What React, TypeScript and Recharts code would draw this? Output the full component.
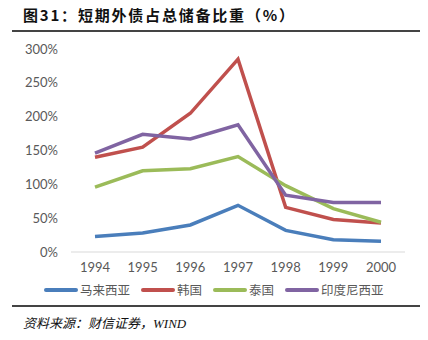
import React from "react";
import { LineChart, Line, XAxis, YAxis } from "recharts";

const years = ["1994", "1995", "1996", "1997", "1998", "1999", "2000"];
const malaysia = [23, 28, 40, 69, 32, 18, 16];
const korea = [140, 155, 205, 285, 66, 48, 43];
const thailand = [96, 120, 123, 141, 98, 64, 44];
const indonesia = [146, 174, 167, 188, 84, 73, 73];
const yTicks = [0, 50, 100, 150, 200, 250, 300];

const seriesNames = ["马来西亚", "韩国", "泰国", "印度尼西亚"];
const seriesKeys = ["malaysia", "korea", "thailand", "indonesia"];
const seriesColors = ["#4a7ebb", "#c0504d", "#9bbb59", "#8064a2"];

const data = years.map((y, i) => ({
  year: y,
  malaysia: malaysia[i],
  korea: korea[i],
  thailand: thailand[i],
  indonesia: indonesia[i],
}));

const tickFont = { fontFamily: "Lato, 'Open Sans', sans-serif", fontSize: 13, fill: "#595959" };

export default function App() {
  return (
    <div style={{ position: "fixed", left: 0, top: 0, width: 428, height: 340, background: "#fff", overflow: "hidden" }}>
      <div
        style={{
          position: "absolute",
          left: 23,
          top: 4,
          fontFamily: "'Noto Sans CJK SC', sans-serif",
          fontWeight: 700,
          fontSize: 15,
          letterSpacing: 1.8,
          color: "#111",
          whiteSpace: "nowrap",
        }}
      >
        图31：短期外债占总储备比重（%）
      </div>
      <div style={{ position: "absolute", left: 12, top: 30, width: 408, height: 2, background: "#444" }} />
      <LineChart
        width={428}
        height={340}
        data={data}
        margin={{ top: 49, right: 23, bottom: 58, left: 0 }}
        style={{ position: "absolute", left: 0, top: 0 }}
      >
        <XAxis
          dataKey="year"
          axisLine={{ stroke: "#d9d9d9", strokeWidth: 1 }}
          tickLine={false}
          tick={tickFont}
          tickMargin={5}
          height={30}
          interval={0}
          padding={{ left: 24, right: 24 }}
        />
        <YAxis
          domain={[0, 300]}
          ticks={yTicks}
          tickFormatter={(v: number) => `${v}%`}
          axisLine={false}
          tickLine={false}
          tick={tickFont}
          tickMargin={7}
          width={71}
          interval={0}
        />
        {seriesKeys.map((k, i) => (
          <Line
            key={k}
            dataKey={k}
            name={seriesNames[i]}
            stroke={seriesColors[i]}
            strokeWidth={3.5}
            dot={false}
            type="linear"
            isAnimationActive={false}
          />
        ))}
      </LineChart>
      <div
        style={{
          position: "absolute",
          left: 44,
          top: 280,
          display: "flex",
          alignItems: "center",
          fontFamily: "'Noto Sans CJK SC', sans-serif",
          fontSize: 12.5,
          color: "#595959",
          whiteSpace: "nowrap",
        }}
      >
        {seriesNames.map((n, i) => (
          <div key={n} style={{ display: "flex", alignItems: "center", marginRight: 11 }}>
            <div style={{ width: 34, height: 4, borderRadius: 2, background: seriesColors[i], marginRight: 2 }} />
            <span>{n}</span>
          </div>
        ))}
      </div>
      <div style={{ position: "absolute", left: 12, top: 305, width: 408, height: 2, background: "#444" }} />
      <div
        style={{
          position: "absolute",
          left: 23,
          top: 313,
          fontFamily: "'Liberation Serif', 'Noto Sans CJK SC', serif",
          fontStyle: "italic",
          fontSize: 13,
          color: "#111",
          whiteSpace: "nowrap",
        }}
      >
        资料来源：财信证券，WIND
      </div>
    </div>
  );
}
